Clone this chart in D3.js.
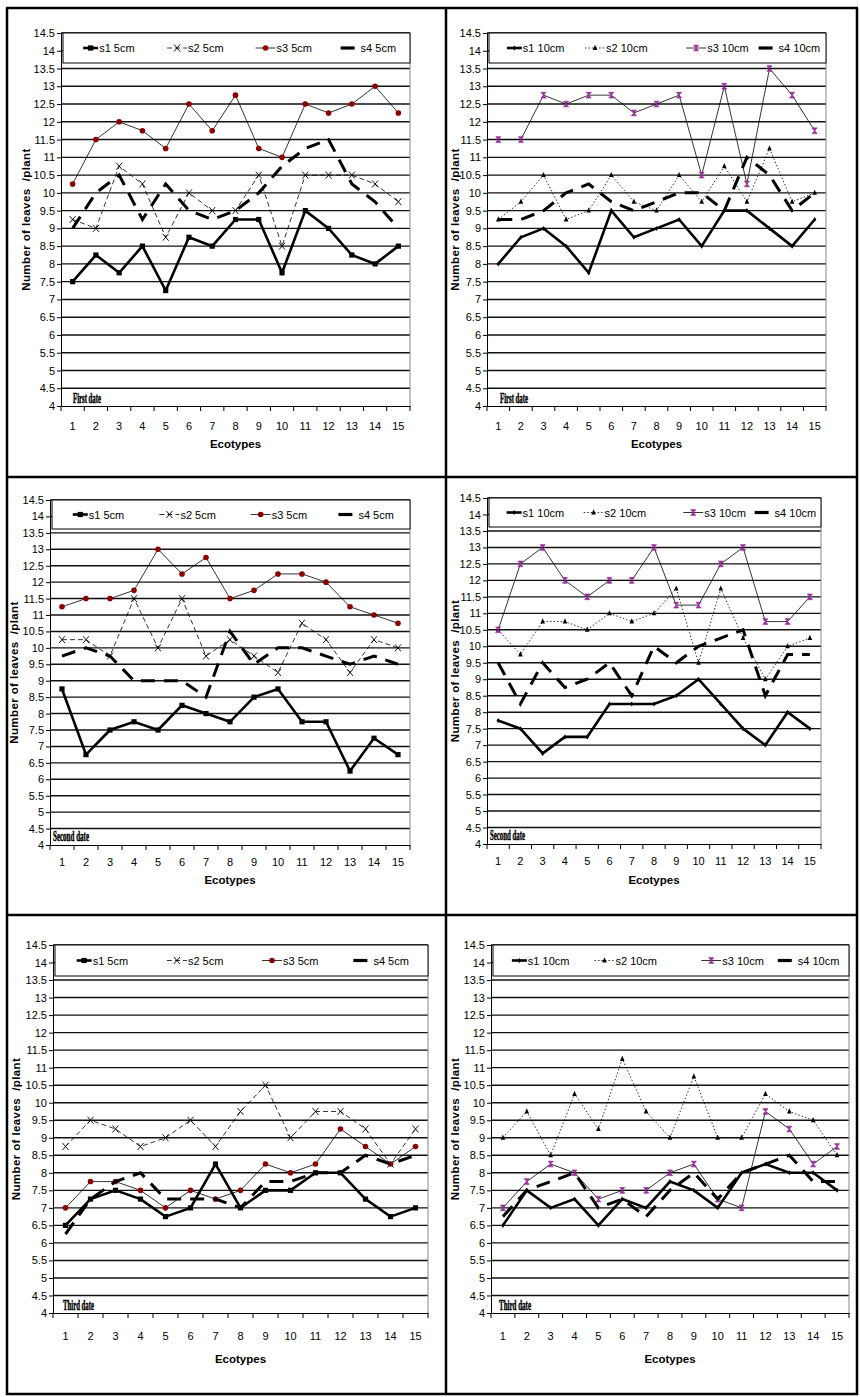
<!DOCTYPE html>
<html>
<head>
<meta charset="utf-8">
<script src="https://cdn.jsdelivr.net/npm/d3@7"></script>
<style>
  body { margin: 0; background: #fff; }
  svg { display: block; }
  .ytitle { white-space: pre; }
</style>
</head>
<body>
<svg id="chart" width="860" height="1397"></svg>
<script>
const ecotypes = [1, 2, 3, 4, 5, 6, 7, 8, 9, 10, 11, 12, 13, 14, 15];
const yTickValues = [4, 4.5, 5, 5.5, 6, 6.5, 7, 7.5, 8, 8.5, 9, 9.5, 10, 10.5, 11, 11.5, 12, 12.5, 13, 13.5, 14, 14.5];
const seriesNames = ["s1", "s2", "s3", "s4"];

// First date, 5 cm
const first5S1 = [7.5, 8.25, 7.75, 8.5, 7.25, 8.75, 8.5, 9.25, 9.25, 7.75, 9.5, 9, 8.25, 8, 8.5];
const first5S2 = [9.25, 9, 10.75, 10.25, 8.75, 10, 9.5, 9.5, 10.5, 8.5, 10.5, 10.5, 10.5, 10.25, 9.75];
const first5S3 = [10.25, 11.5, 12, 11.75, 11.25, 12.5, 11.75, 12.75, 11.25, 11, 12.5, 12.25, 12.5, 13, 12.25];
const first5S4 = [9, 10, 10.5, 9.25, 10.25, 9.5, 9.25, 9.5, 10, 10.75, 11.25, 11.5, 10.25, 9.75, 9];

// First date, 10 cm
const first10S1 = [8, 8.75, 9, 8.5, 7.75, 9.5, 8.75, 9, 9.25, 8.5, 9.5, 9.5, 9, 8.5, 9.25];
const first10S2 = [9.25, 9.75, 10.5, 9.25, 9.5, 10.5, 9.75, 9.5, 10.5, 9.75, 10.75, 9.75, 11.25, 9.75, 10];
const first10S3 = [11.5, 11.5, 12.75, 12.5, 12.75, 12.75, 12.25, 12.5, 12.75, 10.5, 13, 10.25, 13.5, 12.75, 11.75];
const first10S4 = [9.25, 9.25, 9.5, 10, 10.25, 9.75, 9.5, 9.75, 10, 10, 9.5, 11, 10.5, 9.5, 10];

// Second date, 5 cm
const second5S1 = [8.75, 6.75, 7.5, 7.75, 7.5, 8.25, 8, 7.75, 8.5, 8.75, 7.75, 7.75, 6.25, 7.25, 6.75];
const second5S2 = [10.25, 10.25, 9.75, 11.5, 10, 11.5, 9.75, 10.25, 9.75, 9.25, 10.75, 10.25, 9.25, 10.25, 10];
const second5S3 = [11.25, 11.5, 11.5, 11.75, 13, 12.25, 12.75, 11.5, 11.75, 12.25, 12.25, 12, 11.25, 11, 10.75];
const second5S4 = [9.75, 10, 9.75, 9, 9, 9, 8.5, 10.5, 9.5, 10, 10, 9.75, 9.5, 9.75, 9.5];

// Second date, 10 cm
const second10S1 = [7.75, 7.5, 6.75, 7.25, 7.25, 8.25, 8.25, 8.25, 8.5, 9, 8.25, 7.5, 7, 8, 7.5];
const second10S2 = [10.5, 9.75, 10.75, 10.75, 10.5, 11, 10.75, 11, 11.75, 9.5, 11.75, 10.25, 9, 10, 10.25];
const second10S3 = [10.5, 12.5, 13, 12, 11.5, 12, 12, 13, 11.25, 11.25, 12.5, 13, 10.75, 10.75, 11.5];
const second10S4 = [9.5, 8.25, 9.5, 8.75, 9, 9.5, 8.5, 10, 9.5, 10, 10.25, 10.5, 8.5, 9.75, 9.75];

// Third date, 5 cm
const third5S1 = [6.5, 7.25, 7.5, 7.25, 6.75, 7, 8.25, 7, 7.5, 7.5, 8, 8, 7.25, 6.75, 7];
const third5S2 = [8.75, 9.5, 9.25, 8.75, 9, 9.5, 8.75, 9.75, 10.5, 9, 9.75, 9.75, 9.25, 8.25, 9.25];
const third5S3 = [7, 7.75, 7.75, 7.5, 7, 7.5, 7.25, 7.5, 8.25, 8, 8.25, 9.25, 8.75, 8.25, 8.75];
const third5S4 = [6.25, 7.25, 7.75, 8, 7.25, 7.25, 7.25, 7, 7.75, 7.75, 8, 8, 8.5, 8.25, 8.5];

// Third date, 10 cm
const third10S1 = [6.5, 7.5, 7, 7.25, 6.5, 7.25, 7, 7.75, 7.5, 7, 8, 8.25, 8, 8, 7.5];
const third10S2 = [9, 9.75, 8.5, 10.25, 9.25, 11.25, 9.75, 9, 10.75, 9, 9, 10.25, 9.75, 9.5, 8.5];
const third10S3 = [7, 7.75, 8.25, 8, 7.25, 7.5, 7.5, 8, 8.25, 7.25, 7, 9.75, 9.25, 8.25, 8.75];
const third10S4 = [6.75, 7.5, 7.75, 8, 7, 7.25, 6.75, 7.5, 8, 7.25, 8, 8.25, 8.5, 7.75, 7.75];

const NARROW = "'Liberation Sans Narrow', 'Arial Narrow', 'Liberation Sans', Arial, sans-serif";
const SANS = "'Liberation Sans', Arial, sans-serif";

// layout of each panel (pixel boxes, not data)
const panels = [
  { date: "First date", depth: "5cm", values: [first5S1, first5S2, first5S3, first5S4],
    left: 61, right: 410, top: 33, bottom: 406, legendBottom: 63, titleX: 30,
    tickPad: 16, ecoY: 448, dateX: 73, dateY: 403, dateW: 28 },
  { date: "First date", depth: "10cm", values: [first10S1, first10S2, first10S3, first10S4],
    left: 487, right: 826, top: 33, bottom: 406, legendBottom: 63, titleX: 459,
    tickPad: 16, ecoY: 448, dateX: 500, dateY: 403, dateW: 28 },
  { date: "Second date", depth: "5cm", values: [second5S1, second5S2, second5S3, second5S4],
    left: 50, right: 410, top: 500, bottom: 845, legendBottom: 529, titleX: 18,
    tickPad: 13, ecoY: 884, dateX: 53, dateY: 841, dateW: 36 },
  { date: "Second date", depth: "10cm", values: [second10S1, second10S2, second10S3, second10S4],
    left: 487, right: 821, top: 498, bottom: 844, legendBottom: 527, titleX: 459,
    tickPad: 13, ecoY: 884, dateX: 490, dateY: 840, dateW: 35 },
  { date: "Third date", depth: "5cm", values: [third5S1, third5S2, third5S3, third5S4],
    left: 53, right: 428, top: 945, bottom: 1313, legendBottom: 976, titleX: 20,
    tickPad: 19, ecoY: 1363, dateX: 63, dateY: 1310, dateW: 31 },
  { date: "Third date", depth: "10cm", values: [third10S1, third10S2, third10S3, third10S4],
    left: 491, right: 849, top: 945, bottom: 1313, legendBottom: 976, titleX: 459,
    tickPad: 19, ecoY: 1363, dateX: 499, dateY: 1310, dateW: 32 },
];

// legend item start, as a share of the legend box width
const legendSlots5 = [0.058, 0.3, 0.555, 0.8];
const legendSlots10 = [0.053, 0.285, 0.585, 0.8];

// line + marker styles per series; 5 cm and 10 cm panels differ in markers
function seriesStyle(name, depth) {
  const is10 = depth === "10cm";
  switch (name) {
    case "s1": return { width: 2.6, dash: null, marker: is10 ? "diamond" : "square", color: "#000" };
    case "s2": return { width: 0.8, dash: is10 ? "1.5,2" : "5,3", marker: is10 ? "triangle" : "cross", color: "#000" };
    case "s3": return { width: 0.8, dash: null, marker: is10 ? "bowtie" : "circle", color: is10 ? "#9b30a0" : "#8b0000" };
    default: return { width: 3, dash: "14,9", marker: null, color: "#000" };
  }
}

function drawMarker(g, type, cx, cy, color) {
  if (type === "square") {
    g.append("rect").attr("x", cx - 2.6).attr("y", cy - 2.6).attr("width", 5.2).attr("height", 5.2).attr("fill", "#000");
  } else if (type === "diamond") {
    g.append("path").attr("d", `M${cx},${cy - 2.5}L${cx + 1.6},${cy}L${cx},${cy + 2.5}L${cx - 1.6},${cy}Z`).attr("fill", "#000");
  } else if (type === "cross") {
    g.append("path").attr("d", `M${cx - 3},${cy - 3.5}L${cx + 3},${cy + 3.5}M${cx + 3},${cy - 3.5}L${cx - 3},${cy + 3.5}`)
      .attr("stroke", "#000").attr("stroke-width", 0.9).attr("fill", "none");
  } else if (type === "triangle") {
    g.append("path").attr("d", `M${cx},${cy - 3.2}L${cx + 2.3},${cy + 2}L${cx - 2.3},${cy + 2}Z`).attr("fill", "#000");
  } else if (type === "circle") {
    g.append("circle").attr("cx", cx).attr("cy", cy).attr("r", 2.8).attr("fill", color);
  } else if (type === "bowtie") {
    g.append("path").attr("d", `M${cx - 2.5},${cy - 2.8}L${cx + 2.5},${cy - 2.8}L${cx - 2.5},${cy + 2.8}L${cx + 2.5},${cy + 2.8}Z`)
      .attr("fill", color).attr("stroke", color).attr("stroke-width", 0.8);
  }
}

const svg = d3.select("#chart");

// outer table frame
const frame = svg.append("g").attr("stroke", "#000").attr("stroke-width", 2.5);
[[6, 8, 858, 8], [6, 477, 858, 477], [6, 915, 858, 915], [6, 1394, 858, 1394],
 [7, 8, 7, 1395], [446, 8, 446, 1395], [857, 8, 857, 1395]].forEach(([x1, y1, x2, y2]) => {
  frame.append("line").attr("x1", x1).attr("y1", y1).attr("x2", x2).attr("y2", y2);
});

function drawPanel(p) {
  const x = d3.scaleBand().domain(ecotypes).range([p.left, p.right]);
  const y = d3.scaleLinear().domain([4, 14.5]).range([p.bottom, p.top]);
  const cx = (d, i) => x(ecotypes[i]) + x.bandwidth() / 2;
  const g = svg.append("g").attr("class", "panel");

  // horizontal gridlines
  g.append("g").selectAll("line").data(yTickValues.filter((v) => v > 4)).join("line")
    .attr("x1", p.left).attr("x2", p.right)
    .attr("y1", (d) => y(d)).attr("y2", (d) => y(d))
    .attr("stroke", "#111").attr("stroke-width", 1.4);

  // right border of plot area
  g.append("line").attr("x1", p.right).attr("x2", p.right).attr("y1", p.top).attr("y2", p.bottom)
    .attr("stroke", "#888").attr("stroke-width", 1);

  // y axis
  const yAxis = g.append("g").attr("transform", `translate(${p.left},0)`)
    .call(d3.axisLeft(y).tickValues(yTickValues).tickSize(4).tickSizeOuter(0).tickPadding(2).tickFormat((d) => d));
  yAxis.selectAll("text").attr("font-family", NARROW).attr("font-size", 11).attr("fill", "#000");
  yAxis.selectAll("line, path").attr("stroke", "#000");

  // x axis: labels centred in the bands, ticks on the band edges
  const xAxis = g.append("g").attr("transform", `translate(0,${p.bottom})`)
    .call(d3.axisBottom(x).tickSize(0).tickPadding(p.tickPad));
  xAxis.selectAll("text").attr("font-family", NARROW).attr("font-size", 11).attr("fill", "#000");
  xAxis.select("path").attr("stroke", "#000");
  g.append("g").selectAll("line").data(ecotypes.concat([null])).join("line")
    .attr("x1", (d) => (d === null ? p.right : x(d))).attr("x2", (d) => (d === null ? p.right : x(d)))
    .attr("y1", p.bottom).attr("y2", p.bottom + 5)
    .attr("stroke", "#000").attr("stroke-width", 1);

  // series
  seriesNames.forEach((name, si) => {
    const st = seriesStyle(name, p.depth);
    const vals = p.values[si];
    const line = d3.line().x(cx).y((d) => y(d));
    g.append("path").datum(vals).attr("d", line)
      .attr("fill", "none").attr("stroke", "#000").attr("stroke-width", st.width)
      .attr("stroke-dasharray", st.dash).attr("stroke-linejoin", "miter");
    if (st.marker) {
      const mg = g.append("g");
      vals.forEach((v, i) => drawMarker(mg, st.marker, cx(v, i), y(v), st.color));
    }
  });

  // legend box
  const lw = p.right - p.left - 2;
  const lg = g.append("g").attr("transform", `translate(${p.left + 2},${p.top})`);
  const lh = p.legendBottom - p.top;
  lg.append("rect").attr("width", lw).attr("height", lh).attr("fill", "#fff")
    .attr("stroke", "#000").attr("stroke-width", 1);
  const slots = p.depth === "10cm" ? legendSlots10 : legendSlots5;
  seriesNames.forEach((name, si) => {
    const st = seriesStyle(name, p.depth);
    const lx = lw * slots[si];
    const ly = lh / 2;
    const sw = name === "s4" ? 14 : name === "s1" ? 15 : 20;
    lg.append("line").attr("x1", lx).attr("x2", lx + sw).attr("y1", ly).attr("y2", ly)
      .attr("stroke", "#000").attr("stroke-width", name === "s4" ? 3.2 : st.width)
      .attr("stroke-dasharray", name === "s2" ? st.dash : null);
    if (st.marker) drawMarker(lg, st.marker, lx + sw / 2, ly, st.color);
    lg.append("text").attr("x", lx + sw + (name === "s4" ? 6 : 1)).attr("y", ly + 4)
      .attr("font-family", NARROW).attr("font-size", 11).attr("fill", "#000")
      .text(`${name} ${p.depth}`);
  });

  // axis titles
  g.append("text").attr("class", "ytitle")
    .attr("transform", `translate(${p.titleX},${(p.top + p.bottom) / 2}) rotate(-90)`)
    .attr("text-anchor", "middle").attr("font-family", SANS).attr("font-weight", "bold")
    .attr("font-size", 11.5).attr("letter-spacing", 0.4).attr("fill", "#000")
    .text("Number of leaves  /plant");
  g.append("text").attr("x", (p.left + p.right) / 2).attr("y", p.ecoY)
    .attr("text-anchor", "middle").attr("font-family", NARROW).attr("font-weight", "bold")
    .attr("font-size", 11.5).attr("fill", "#000")
    .text("Ecotypes");

  // date label inside the plot (heavy, squeezed serif)
  g.append("text").attr("x", p.dateX).attr("y", p.dateY)
    .attr("font-family", "'Liberation Serif', 'Times New Roman', serif").attr("font-weight", "bold")
    .attr("font-size", 14).attr("fill", "#000").attr("stroke", "#000").attr("stroke-width", 0.5)
    .attr("textLength", p.dateW).attr("lengthAdjust", "spacingAndGlyphs")
    .text(p.date);
}

panels.forEach(drawPanel);
</script>
</body>
</html>
